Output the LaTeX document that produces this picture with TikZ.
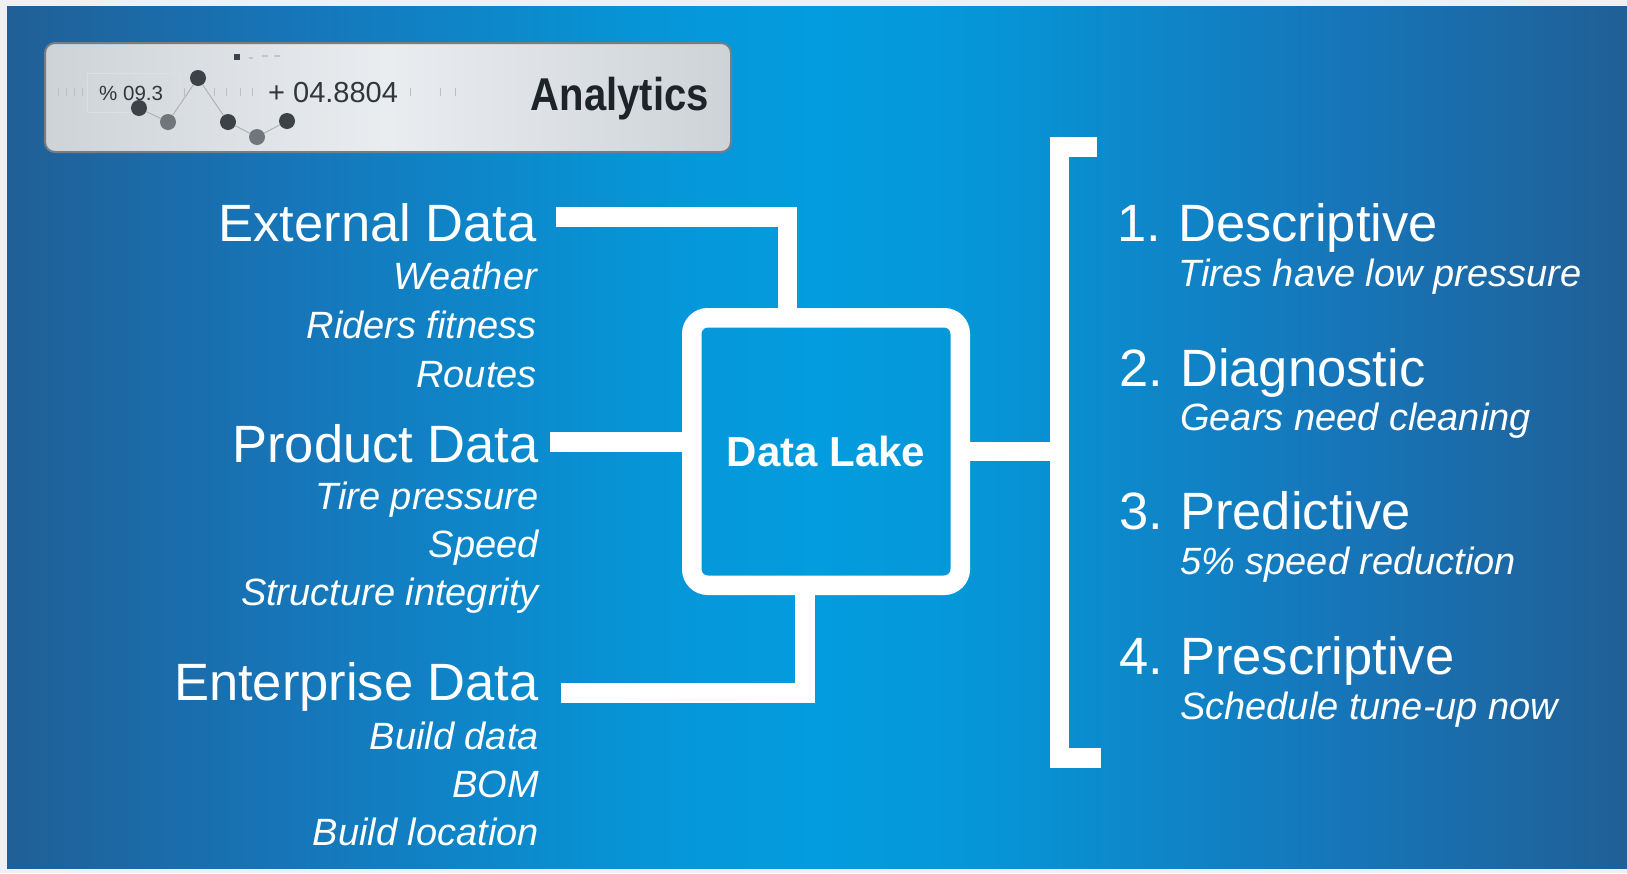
\documentclass[tikz,border=0pt]{standalone}
\usepackage{fontspec}
\setmainfont{Liberation Sans}
\usetikzlibrary{positioning}

\definecolor{bgedge}{RGB}{33,95,150}
\definecolor{bgquarter}{RGB}{22,118,185}
\definecolor{bgnear}{RGB}{6,150,216}
\definecolor{bgmid}{RGB}{3,156,222}
\definecolor{framegray}{RGB}{238,240,243}
\definecolor{panelgray}{RGB}{206,211,215}
\definecolor{panellight}{RGB}{234,237,240}
\definecolor{panelline}{RGB}{118,126,133}
\definecolor{dotdark}{RGB}{60,66,71}
\definecolor{dotmid}{RGB}{112,118,123}
\definecolor{inkgray}{RGB}{50,55,60}
\definecolor{titleink}{RGB}{28,36,42}

\pgfdeclarehorizontalshading{bgshade}{100bp}{color(0bp)=(bgedge); color(25bp)=(bgedge);
  color(34bp)=(bgquarter); color(45bp)=(bgnear); color(50bp)=(bgmid); color(55bp)=(bgnear);
  color(66bp)=(bgquarter); color(75bp)=(bgedge); color(100bp)=(bgedge)}

\begin{document}
\begin{tikzpicture}[x=1pt,y=-1pt,
    wire/.style={draw=white,line width=19.5pt,line join=miter},
    head/.style={text=white,inner sep=0pt,font=\fontsize{52.5}{60}\selectfont},
    item/.style={text=white,inner sep=0pt,font=\fontsize{38}{44}\selectfont\itshape},
    dot/.style={circle,inner sep=0pt,minimum size=16pt}]

  \useasboundingbox (0,0) rectangle (1627,873);
  \fill[framegray] (0,0) rectangle (1627,873);
  \shade[shading=bgshade] (7,6) rectangle (1627,868);

  % analytics panel
  \shade[rounded corners=10pt,left color=panelgray,right color=panelgray,middle color=panellight]
    (45,43) rectangle (731,152);
  \draw[panelline,line width=2pt,rounded corners=10pt] (45,43) rectangle (731,152);
  \draw[gray!25] (87,73) rectangle (180,112);
  \foreach \tx in {58,66,74,82,184,214,226,240,252,410,440,455}
    \draw[gray!50] (\tx,88) -- (\tx,96);
  \node[text=inkgray,inner sep=0pt,anchor=base west,font=\fontsize{20.5}{24}\selectfont] (pct) at (99,100) {\% 09.3};
  \node[text=inkgray,inner sep=0pt,anchor=base west,font=\fontsize{29}{34}\selectfont] (delta) at (268,102) {+ 04.8804};
  \node[text=titleink,inner sep=0pt,anchor=base east,font=\bfseries\fontsize{46}{52}\selectfont] (analytics) at (709,110) {\scalebox{0.87}[1]{Analytics}};

  \node[dot,fill=dotdark] (d1) at (139,108) {};
  \node[dot,fill=dotmid] (d2) at (168,122) {};
  \node[dot,fill=dotdark] (d3) at (198,78) {};
  \node[dot,fill=dotdark] (d4) at (228,122) {};
  \node[dot,fill=dotmid] (d5) at (257,137) {};
  \node[dot,fill=dotdark] (d6) at (287,121) {};
  \draw[gray!60,line width=1pt] (d1) -- (d2) -- (d3) -- (d4) -- (d5) -- (d6);
  \fill[dotdark] (234,54) rectangle (240,60);
  \fill[gray!45] (249,57) rectangle (253,59);
  \fill[gray!45] (262,55) rectangle (268,57);
  \fill[gray!45] (274,55) rectangle (280,57);

  % data lake
  \node[draw=white,line width=19.5pt,rounded corners=16pt,outer sep=0pt,
        minimum width=268.5pt,minimum height=267.5pt,text=white,
        font=\bfseries\fontsize{42}{48}\selectfont] (lake) at (826,451.5) {Data Lake};

  % sources
  \node[head,anchor=base east] (ext) at (537,241) {External Data};
  \node[item,below=48pt of ext.base east,anchor=base east] (weather) {Weather};
  \node[item,below=49pt of weather.base east,anchor=base east] (riders) {Riders fitness};
  \node[item,below=49pt of riders.base east,anchor=base east] (routes) {Routes};

  \node[head,anchor=base east] (prod) at (539,462) {Product Data};
  \node[item,below=47pt of prod.base east,anchor=base east] (tire) {Tire pressure};
  \node[item,below=48pt of tire.base east,anchor=base east] (speed) {Speed};
  \node[item,below=48pt of speed.base east,anchor=base east] (structure) {Structure integrity};

  \node[head,anchor=base east] (ent) at (539,700) {Enterprise Data};
  \node[item,below=49pt of ent.base east,anchor=base east] (build) {Build data};
  \node[item,below=48pt of build.base east,anchor=base east] (bom) {BOM\ };
  \node[item,below=48pt of bom.base east,anchor=base east] (location) {Build location};

  % connectors
  \coordinate (extin) at (556,217);
  \coordinate (extbend) at (787.5,217);
  \draw[wire] (extin) -- (extbend) -- (extbend |- lake.north);
  \coordinate (prodin) at (550,442);
  \draw[wire] (prodin) -- (prodin -| lake.west);
  \coordinate (entin) at (561,693);
  \coordinate (entbend) at (805,693);
  \draw[wire] (entin) -- (entbend) -- (entbend |- lake.south);

  % bracket
  \coordinate (spine) at (1059.5,451.5);
  \coordinate (brtop) at (1097,147);
  \coordinate (brbot) at (1101,758);
  \draw[wire] (lake.east) -- (lake.east -| spine);
  \draw[wire] (brtop) -- (brtop -| spine) -- (brbot -| spine) -- (brbot);

  % analytics levels
  \node[head,anchor=base west] (desc) at (1178,241) {Descriptive};
  \node[head,left=17pt of desc.base west,anchor=base east] (n1) {1.};
  \node[item,below=45pt of desc.base west,anchor=base west] (tires) {Tires have low pressure};

  \node[head,anchor=base west] (diag) at (1180,386) {Diagnostic};
  \node[head,left=17pt of diag.base west,anchor=base east] (n2) {2.};
  \node[item,below=44pt of diag.base west,anchor=base west] (gears) {Gears need cleaning};

  \node[head,anchor=base west] (pred) at (1180,529) {Predictive};
  \node[head,left=17pt of pred.base west,anchor=base east] (n3) {3.};
  \node[item,below=45pt of pred.base west,anchor=base west] (slow) {5\% speed reduction};

  \node[head,anchor=base west] (presc) at (1180,674) {Prescriptive};
  \node[head,left=17pt of presc.base west,anchor=base east] (n4) {4.};
  \node[item,below=45pt of presc.base west,anchor=base west] (tune) {Schedule tune-up now};
\end{tikzpicture}
\end{document}
